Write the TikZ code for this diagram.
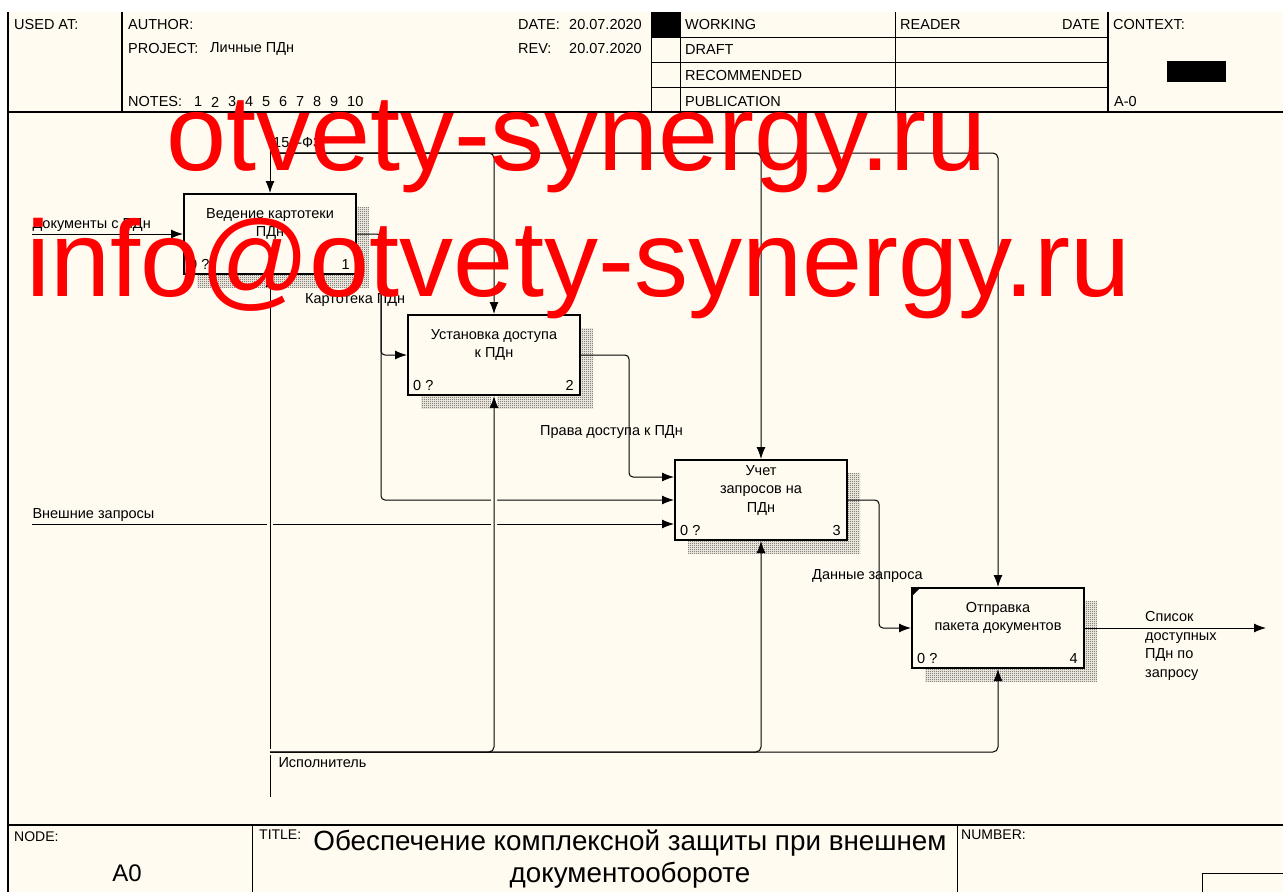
\documentclass[tikz,border=0pt]{standalone}
\usepackage{fontspec}
\setmainfont{Liberation Sans}
\usepackage{xcolor}
\usepackage{tikz}
\usetikzlibrary{arrows.meta,patterns,shadows,calc}

\definecolor{crema}{RGB}{255,251,240}
\definecolor{rosso}{RGB}{255,0,0}

% Retino dell'ombra
\pgfdeclarepatternformonly{scacchi}{\pgfqpoint{0pt}{0pt}}{\pgfqpoint{2pt}{2pt}}%
  {\pgfqpoint{2pt}{2pt}}{%
  \pgfpathrectangle{\pgfqpoint{0pt}{0pt}}{\pgfqpoint{1pt}{1pt}}%
  \pgfpathrectangle{\pgfqpoint{1pt}{1pt}}{\pgfqpoint{1pt}{1pt}}%
  \pgfusepath{fill}}

\tikzset{
  blocco/.style={draw, line width=2pt, fill=crema, minimum width=172pt,
    minimum height=80pt, inner sep=0pt,
    general shadow={shadow xshift=13pt, shadow yshift=-13pt,
      pattern=scacchi, pattern color=black!75}},
  testo/.style={font=\fontsize{14.5}{18.5}\selectfont, align=center, inner sep=0pt},
  numero/.style={font=\fontsize{14.5}{16}\selectfont, inner sep=0pt},
  freccia/.style={-{Latex[length=12pt,width=9pt]}, line width=1pt},
  ponte/.style={preaction={draw=crema, line width=6pt, arrows=-}},
  etich/.style={font=\fontsize{14.5}{18.7}\selectfont, inner sep=0pt},
  intest/.style={font=\fontsize{14.5}{16}\selectfont, anchor=west, inner sep=0pt},
  piccolo/.style={font=\fontsize{14}{15}\selectfont, anchor=west, inner sep=0pt},
  filigrana/.style={font=\fontsize{108}{112}\selectfont, text=rosso,
    anchor=base west, inner sep=0pt}
}

\begin{document}
\begin{tikzpicture}[x=1pt,y=-1pt]
  \useasboundingbox (0,0) rectangle (1283,892);

  % Sfondo
  \fill[white] (0,0) rectangle (1283,892);
  \fill[crema] (8,12) rectangle (1283,892);

  % Intestazione
  \draw[line width=1.6pt] (8,12) -- (8,892);
  \draw[line width=1.6pt] (8,112) -- (1283,112);
  \draw[line width=1.6pt] (122,12) -- (122,112);
  \draw[line width=1pt] (651,12) -- (651,112);
  \draw[line width=1pt] (680,12) -- (680,112);
  \draw[line width=1pt] (895,12) -- (895,112);
  \draw[line width=1.6pt] (1108,12) -- (1108,112);
  \foreach \y in {37,62,87}
    \draw[line width=1pt] (651,\y) -- (1108,\y);
  \fill (651,12) rectangle (680,37);
  \fill (1167,61) rectangle (1226,82);

  \node[intest] at (14,25) {USED AT:};
  \node[intest] at (128,25) {AUTHOR:};
  \node[intest] at (128,49) {PROJECT:};
  \node[intest] at (210,49) {Личные ПДн};
  \node[intest] at (128,102) {NOTES:};
  \foreach \n in {1,...,10}
    \node[intest] at (177+17*\n,102) {\n};
  \node[intest] at (518,25) {DATE:};
  \node[intest] at (569,25) {20.07.2020};
  \node[intest] at (518,49) {REV:};
  \node[intest] at (569,49) {20.07.2020};
  \node[intest] at (685,25) {WORKING};
  \node[intest] at (685,50) {DRAFT};
  \node[intest] at (685,76) {RECOMMENDED};
  \node[intest] at (685,102) {PUBLICATION};
  \node[intest] at (900,25) {READER};
  \node[intest, anchor=east] at (1100,25) {DATE};
  \node[intest] at (1113,25) {CONTEXT:};
  \node[intest] at (1114,102) {A-0};

  % Cartiglio in basso
  \draw[line width=1.6pt] (8,825) -- (1283,825);
  \draw[line width=1pt] (252,825) -- (252,892);
  \draw[line width=1pt] (957,825) -- (957,892);
  \draw[line width=1pt] (1202,892) -- (1202,873) -- (1283,873);
  \node[piccolo] at (14,837) {NODE:};
  \node[font=\fontsize{24}{26}\selectfont] at (127,873) {A0};
  \node[piccolo] at (259,835) {TITLE:};
  \node[font=\fontsize{27.8}{32}\selectfont, align=center, inner sep=0pt]
    at (630,859) {Обеспечение комплексной защиты при внешнем\\документообороте};
  \node[piccolo] at (961,835) {NUMBER:};

  % Blocchi
  \node[blocco] (b1) at (270,234) {};
  \node[blocco] (b2) at (494,355) {};
  \node[blocco] (b3) at (761,500) {};
  \node[blocco] (b4) at (998,628) {};
  \fill (b4.north west) -- ++(10,0) -- ++(-10,10) -- cycle;

  \node[testo] at ([yshift=10pt]b1.center) {Ведение картотеки\\ПДн};
  \node[testo] at ([yshift=10pt]b2.center) {Установка доступа\\к ПДн};
  \node[testo] at ([yshift=10pt]b3.center) {Учет\\запросов на\\ПДн};
  \node[testo] at ([yshift=10pt]b4.center) {Отправка\\пакета документов};

  \foreach \b/\n in {b1/1,b2/2,b3/3,b4/4} {
    \node[numero, anchor=south west] at ([shift={(6,-5)}]\b.south west) {0 ?};
    \node[numero, anchor=south east] at ([shift={(-7,-5)}]\b.south east) {\n};
  }

  % Ingressi verso il blocco 3 (prima dei ponti)
  \path (b1.east) ++(24,0) coordinate (kx);
  \draw[freccia, rounded corners=4] (b1.east) -- (kx) |- (b3.west);
  \node[etich, anchor=west] at (305,300) {Картотека ПДн};
  \draw[freccia, rounded corners=4] (kx) |- (b2.west);
  \coordinate (inExt) at (32,524);
  \draw[freccia] (inExt) -- ($(b3.west)+(0,24)$)
    node[etich, pos=0, anchor=south west, yshift=2pt] {Внешние запросы};

  % Meccanismo
  \coordinate (mech) at (270,797);
  \coordinate (zmech) at (270,752);
  \draw[freccia, ponte] (mech) -- (b1.south);
  \draw[freccia, ponte, rounded corners=5] (zmech) -| (b2.south);
  \draw[freccia, rounded corners=5] (zmech) -| (b3.south);
  \draw[freccia, rounded corners=5] (zmech) -| (b4.south)
    node[etich, pos=0, anchor=north west, xshift=8pt, yshift=-5pt] {Исполнитель};

  % Controllo
  \coordinate (c151) at (270,138);
  \coordinate (z151) at (270,153);
  \draw[freccia] (c151) -- (b1.north);
  \node[etich, anchor=west] at (273,143) {151-ФЗ};
  \draw[freccia, rounded corners=5] (z151) -| (b2.north);
  \draw[freccia, rounded corners=5] (z151) -| (b3.north);
  \draw[freccia, rounded corners=5] (z151) -| (b4.north);

  % Altre frecce
  \coordinate (inDoc) at (32,234);
  \draw[freccia] (inDoc) -- (b1.west)
    node[etich, pos=0, anchor=south west, yshift=2pt] {Документы с ПДн};
  \draw[freccia, rounded corners=4] (b2.east) -- ++(48,0) |- ($(b3.west)+(0,-23)$);
  \node[etich, anchor=west] at (540,432) {Права доступа к ПДн};
  \draw[freccia, rounded corners=4] (b3.east) -- ++(31,0) |- (b4.west);
  \node[etich, anchor=west] at (812,576) {Данные запроса};
  \coordinate (outList) at (1266,628);
  \draw[freccia] (b4.east) -- (outList);
  \node[etich, align=left, anchor=north west] at (1145,611)
    {Список\\доступных\\ПДн по\\запросу};

  % Filigrana
  \node[filigrana] at (166,170) {otvety-synergy.ru};
  \node[filigrana] at (26,296) {info@otvety-synergy.ru};
\end{tikzpicture}
\end{document}
